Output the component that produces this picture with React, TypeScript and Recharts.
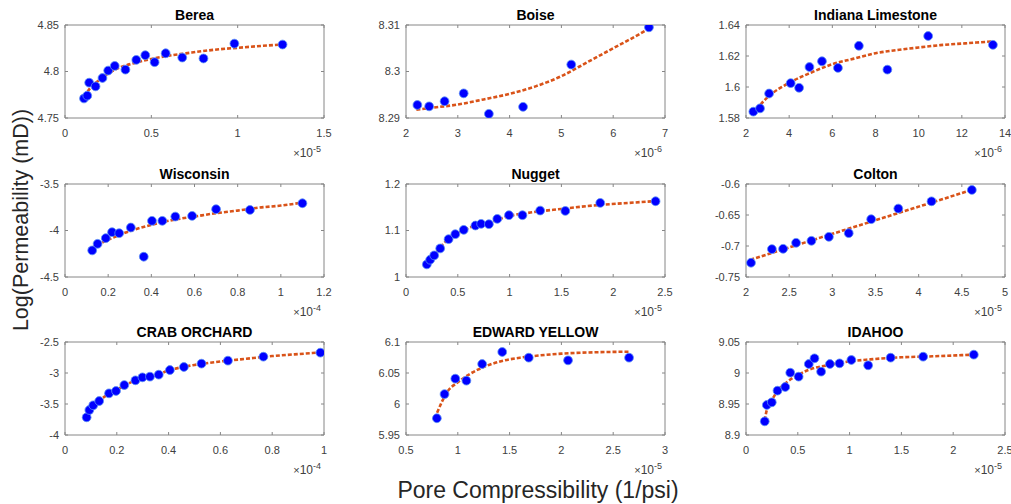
import React from 'react';
import { ComposedChart, Scatter, Line, XAxis, YAxis } from 'recharts';

const FONT = '"Liberation Sans", Arial, Helvetica, sans-serif';

// ---------- data (x in axis units: value × 10^exponent 1/psi) ----------
const titles = ['Berea', 'Boise', 'Indiana Limestone', 'Wisconsin', 'Nugget', 'Colton', 'CRAB ORCHARD', 'EDWARD YELLOW', 'IDAHOO'];
const xExponents = [-5, -6, -6, -4, -5, -5, -4, -5, -5];

const bereaX = [0.11, 0.129, 0.14, 0.177, 0.217, 0.25, 0.288, 0.35, 0.413, 0.465, 0.519, 0.583, 0.679, 0.802, 0.981, 1.26];
const bereaY = [4.771, 4.774, 4.788, 4.784, 4.793, 4.801, 4.806, 4.802, 4.8125, 4.8175, 4.81, 4.8196, 4.815, 4.814, 4.83, 4.829];
const bereaFitX = [0.11, 0.15, 0.2, 0.25, 0.3, 0.4, 0.5, 0.6, 0.7, 0.8, 0.9, 1.0, 1.1, 1.26];
const bereaFitY = [4.773, 4.783, 4.791, 4.798, 4.803, 4.809, 4.8135, 4.817, 4.8195, 4.822, 4.824, 4.8255, 4.827, 4.829];

const boiseX = [2.22, 2.447, 2.745, 3.114, 3.6, 4.26, 5.19, 6.69];
const boiseY = [8.2928, 8.2925, 8.2936, 8.2953, 8.2909, 8.2924, 8.3015, 8.3095];
const boiseFitX = [2.2, 2.5, 3, 3.5, 4, 4.5, 5, 5.5, 6, 6.5, 6.7];
const boiseFitY = [8.2918, 8.2922, 8.2929, 8.294, 8.2952, 8.2968, 8.299, 8.302, 8.305, 8.308, 8.3093];

const indianaX = [2.34, 2.65, 3.07, 4.07, 4.46, 4.94, 5.52, 6.26, 7.23, 8.55, 10.44, 13.44];
const indianaY = [1.5841, 1.5862, 1.5958, 1.6025, 1.5995, 1.6129, 1.6166, 1.6123, 1.6266, 1.6112, 1.6329, 1.6272];
const indianaFitX = [2.31, 3, 4, 5, 6, 7, 8, 9, 10, 11, 12, 13.4];
const indianaFitY = [1.5828, 1.5934, 1.6027, 1.6092, 1.6147, 1.6183, 1.6218, 1.6238, 1.6255, 1.627, 1.628, 1.6294];

const wisconsinX = [0.126, 0.151, 0.189, 0.218, 0.251, 0.305, 0.365, 0.403, 0.451, 0.511, 0.589, 0.7, 0.857, 1.1];
const wisconsinY = [-4.214, -4.143, -4.082, -4.018, -4.029, -3.968, -4.282, -3.896, -3.896, -3.85, -3.843, -3.771, -3.779, -3.707];
const wisconsinFitX = [0.123, 0.2, 0.3, 0.4, 0.5, 0.6, 0.7, 0.8, 0.9, 1.0, 1.1];
const wisconsinFitY = [-4.189, -4.1, -4.007, -3.939, -3.886, -3.85, -3.814, -3.786, -3.754, -3.732, -3.7];

const nuggetX = [0.201, 0.233, 0.272, 0.33, 0.411, 0.476, 0.557, 0.67, 0.725, 0.8, 0.881, 0.994, 1.124, 1.295, 1.538, 1.875, 2.409];
const nuggetY = [1.0271, 1.0371, 1.0464, 1.0614, 1.0814, 1.0921, 1.1014, 1.1107, 1.1143, 1.1136, 1.125, 1.1329, 1.1329, 1.1429, 1.1421, 1.1593, 1.1629];
const nuggetFitX = [0.194, 0.3, 0.4, 0.5, 0.6, 0.8, 1.0, 1.2, 1.5, 1.8, 2.1, 2.4];
const nuggetFitY = [1.0229, 1.055, 1.08, 1.094, 1.105, 1.117, 1.1314, 1.1386, 1.1464, 1.1536, 1.1586, 1.163];

const coltonX = [2.058, 2.3, 2.43, 2.58, 2.758, 2.96, 3.19, 3.45, 3.764, 4.149, 4.616];
const coltonY = [-0.727, -0.705, -0.7045, -0.6948, -0.6916, -0.6852, -0.6793, -0.6568, -0.6396, -0.6279, -0.6096];
const coltonFitX = [2.05, 3, 4, 4.63];
const coltonFitY = [-0.7222, -0.6804, -0.6365, -0.6089];

const crabX = [0.0836, 0.094, 0.109, 0.132, 0.17, 0.197, 0.229, 0.272, 0.299, 0.328, 0.362, 0.405, 0.459, 0.527, 0.629, 0.766, 0.986];
const crabY = [-3.715, -3.597, -3.521, -3.452, -3.328, -3.29, -3.194, -3.118, -3.07, -3.059, -3.027, -2.952, -2.903, -2.849, -2.801, -2.737, -2.672];
const crabFitX = [0.083, 0.1, 0.13, 0.17, 0.2, 0.25, 0.3, 0.35, 0.4, 0.5, 0.6, 0.7, 0.8, 0.9, 0.99];
const crabFitY = [-3.677, -3.56, -3.45, -3.34, -3.27, -3.16, -3.085, -3.035, -2.96, -2.87, -2.815, -2.77, -2.727, -2.695, -2.668];

const edwardX = [0.798, 0.872, 0.976, 1.083, 1.235, 1.429, 1.685, 2.064, 2.653];
const edwardY = [5.977, 6.016, 6.0409, 6.0376, 6.0645, 6.0839, 6.0747, 6.0704, 6.0747];
const edwardFitX = [0.8, 0.9, 1.0, 1.1, 1.2, 1.4, 1.6, 1.8, 2.0, 2.3, 2.65];
const edwardFitY = [5.986, 6.02, 6.035, 6.0468, 6.0559, 6.0683, 6.0747, 6.0785, 6.0812, 6.0833, 6.0844];

const idahooX = [0.181, 0.201, 0.249, 0.304, 0.379, 0.427, 0.508, 0.606, 0.661, 0.725, 0.81, 0.903, 1.017, 1.179, 1.396, 1.71, 2.199];
const idahooY = [8.922, 8.9484, 8.9527, 8.9715, 8.9774, 9.0005, 8.9941, 9.0145, 9.0237, 9.0022, 9.0145, 9.0156, 9.021, 9.0124, 9.0247, 9.0263, 9.0296];
const idahooFitX = [0.18, 0.2, 0.25, 0.3, 0.4, 0.5, 0.6, 0.8, 1.0, 1.2, 1.5, 1.8, 2.2];
const idahooFitY = [8.924, 8.94, 8.9565, 8.97, 8.986, 8.9968, 9.0048, 9.0129, 9.0188, 9.022, 9.0253, 9.0269, 9.0296];

// ---------- tick labels ----------
const xTicksList = [
  [0, 0.5, 1, 1.5],
  [2, 3, 4, 5, 6, 7],
  [2, 4, 6, 8, 10, 12, 14],
  [0, 0.2, 0.4, 0.6, 0.8, 1, 1.2],
  [0, 0.5, 1, 1.5, 2, 2.5],
  [2, 2.5, 3, 3.5, 4, 4.5, 5],
  [0, 0.2, 0.4, 0.6, 0.8, 1],
  [0.5, 1, 1.5, 2, 2.5, 3],
  [0, 0.5, 1, 1.5, 2, 2.5],
];
const yTicksList = [
  [4.75, 4.8, 4.85],
  [8.29, 8.3, 8.31],
  [1.58, 1.6, 1.62, 1.64],
  [-4.5, -4, -3.5],
  [1, 1.1, 1.2],
  [-0.75, -0.7, -0.65, -0.6],
  [-4, -3.5, -3, -2.5],
  [5.95, 6, 6.05, 6.1],
  [8.9, 8.95, 9, 9.05],
];

const seriesX = [bereaX, boiseX, indianaX, wisconsinX, nuggetX, coltonX, crabX, edwardX, idahooX];
const seriesY = [bereaY, boiseY, indianaY, wisconsinY, nuggetY, coltonY, crabY, edwardY, idahooY];
const fitX = [bereaFitX, boiseFitX, indianaFitX, wisconsinFitX, nuggetFitX, coltonFitX, crabFitX, edwardFitX, idahooFitX];
const fitY = [bereaFitY, boiseFitY, indianaFitY, wisconsinFitY, nuggetFitY, coltonFitY, crabFitY, edwardFitY, idahooFitY];

// ---------- layout ----------
const COL_LEFTS = [65, 406, 746];
const ROW_TOPS = [25, 184, 342];
const BOX_W = 259;
const BOX_H = 93;
const ML = 60, MR = 13, MT = 9, MB = 30;
const AX = '#868686';
const TICK_TXT = '#404040';
const TICK_LEN = 3;

// plot-area edges inside each panel's own chart
const P_LEFT = ML;
const P_TOP = MT + 1;
const P_BOTTOM = MT + 1 + BOX_H;
const P_RIGHT = ML + BOX_W;

const Dot = (props: any) => {
  const { cx, cy } = props;
  if (cx == null || cy == null) return <g />;
  return <circle cx={cx} cy={cy} r={4.4} fill="#0000ff" stroke="#5a8ff5" strokeWidth={0.8} />;
};

const BottomTick = (props: any) => {
  const { x, y, payload } = props;
  return (
    <g>
      <line x1={x} x2={x} y1={P_BOTTOM} y2={P_BOTTOM - TICK_LEN} stroke={AX} />
      <text x={x} y={y} dy="0.71em" textAnchor="middle" fontSize={11} fill={TICK_TXT} fontFamily={FONT}>
        {String(payload.value)}
      </text>
    </g>
  );
};
const TopTick = (props: any) => {
  const { x } = props;
  return <line x1={x} x2={x} y1={P_TOP} y2={P_TOP + TICK_LEN} stroke={AX} />;
};
const LeftTick = (props: any) => {
  const { x, y, payload } = props;
  return (
    <g>
      <line x1={P_LEFT} x2={P_LEFT + TICK_LEN} y1={y} y2={y} stroke={AX} />
      <text x={x} y={y} dy="0.355em" textAnchor="end" fontSize={11} fill={TICK_TXT} fontFamily={FONT}>
        {String(payload.value)}
      </text>
    </g>
  );
};
const RightTick = (props: any) => {
  const { y } = props;
  return <line x1={P_RIGHT} x2={P_RIGHT - TICK_LEN} y1={y} y2={y} stroke={AX} />;
};

function Panel({ idx }: { idx: number }) {
  const col = idx % 3;
  const row = Math.floor(idx / 3);
  const left = COL_LEFTS[col];
  const top = ROW_TOPS[row];
  const W = ML + BOX_W + MR + 1;
  const H = MT + 1 + BOX_H + MB;
  const xt = xTicksList[idx];
  const yt = yTicksList[idx];
  const xDomain: [number, number] = [xt[0], xt[xt.length - 1]];
  const yDomain: [number, number] = [yt[0], yt[yt.length - 1]];
  const pts = seriesX[idx].map((x, i) => ({ x, y: seriesY[idx][i] }));
  const fit = fitX[idx].map((x, i) => ({ x, y: fitY[idx][i] }));
  return (
    <div style={{ position: 'absolute', left: left - ML, top: top - MT - 1, width: W, height: H }}>
      <ComposedChart width={W} height={H} margin={{ top: MT, right: MR, bottom: 0, left: 0 }}>
        <XAxis xAxisId="b" dataKey="x" type="number" orientation="bottom" domain={xDomain} ticks={xt} interval={0}
          allowDataOverflow height={MB} tickSize={0} tickMargin={11} stroke={AX} tickLine={false} tick={BottomTick} />
        <XAxis xAxisId="t" dataKey="x" type="number" orientation="top" domain={xDomain} ticks={xt} interval={0}
          allowDataOverflow height={1} tickSize={0} tickMargin={0} stroke={AX} tickLine={false} tick={TopTick} />
        <YAxis yAxisId="l" dataKey="y" type="number" orientation="left" domain={yDomain} ticks={yt} interval={0}
          allowDataOverflow width={ML} tickSize={0} tickMargin={6} stroke={AX} tickLine={false} tick={LeftTick} />
        <YAxis yAxisId="r" dataKey="y" type="number" orientation="right" domain={yDomain} ticks={yt} interval={0}
          allowDataOverflow width={1} tickSize={0} tickMargin={0} stroke={AX} tickLine={false} tick={RightTick} />
        <Line xAxisId="t" yAxisId="r" data={fit} dataKey="y" stroke="none" strokeWidth={0} dot={false}
          activeDot={false} isAnimationActive={false} legendType="none" />
        <Scatter xAxisId="b" yAxisId="l" data={pts} dataKey="y" shape={Dot} isAnimationActive={false} />
        <Line xAxisId="b" yAxisId="l" data={fit} dataKey="y" type="monotone" stroke="#D95319" strokeWidth={2.6}
          strokeDasharray="4 2" dot={false} activeDot={false} isAnimationActive={false} />
      </ComposedChart>
    </div>
  );
}

export default function App() {
  const panels = titles.map((_, i) => i);
  return (
    <div style={{ position: 'absolute', left: 0, top: 0, width: 1011, height: 504, background: '#fff', overflow: 'hidden', fontFamily: FONT }}>
      {panels.map((i) => <Panel key={i} idx={i} />)}
      <svg width={1011} height={504} style={{ position: 'absolute', left: 0, top: 0, pointerEvents: 'none' }}>
        {panels.map((i) => {
          const col = i % 3;
          const row = Math.floor(i / 3);
          const left = COL_LEFTS[col];
          const top = ROW_TOPS[row];
          return (
            <g key={i}>
              <text x={left + BOX_W / 2} y={top - 5} textAnchor="middle" fontFamily={FONT} fontWeight="bold" fontSize={14} fill="#000">
                {titles[i]}
              </text>
              <text x={left + BOX_W - 3} y={top + BOX_H + 39} textAnchor="end" fontFamily={FONT} fill={TICK_TXT}>
                <tspan fontSize={11}>×</tspan>
                <tspan fontSize={12}>10</tspan>
                <tspan fontSize={9} dy={-5}>{String(xExponents[i])}</tspan>
              </text>
            </g>
          );
        })}
        <text x={28} y={220} transform="rotate(-90 28 220)" textAnchor="middle" fontFamily={FONT} fontSize={21.5} fill="#262626">
          Log(Permeability (mD))
        </text>
        <text x={538} y={498} textAnchor="middle" fontFamily={FONT} fontSize={23} fill="#262626">
          Pore Compressibility (1/psi)
        </text>
      </svg>
    </div>
  );
}
